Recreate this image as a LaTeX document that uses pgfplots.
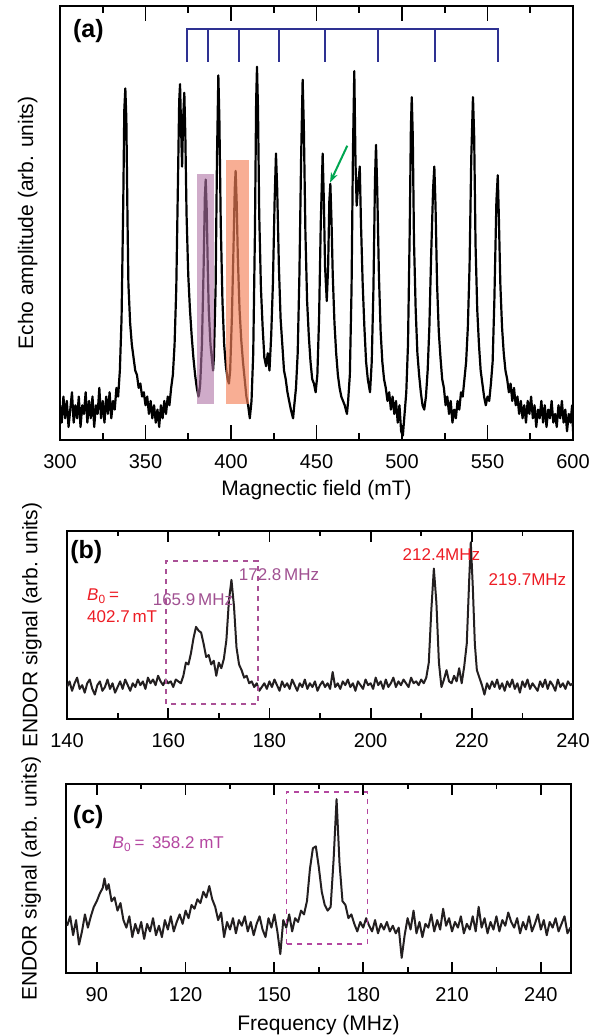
\documentclass[border=0pt]{standalone}
\usepackage{fontspec}
\setmainfont{Liberation Sans}
\usepackage{pgfplots}
\pgfplotsset{compat=1.18}
\usetikzlibrary{arrows.meta}
\definecolor{combblue}{RGB}{46,49,146}
\definecolor{rectpurple}{RGB}{175,115,165}
\definecolor{rectorange}{RGB}{245,130,90}
\definecolor{arrowgreen}{RGB}{0,166,81}
\definecolor{annred}{RGB}{237,28,36}
\definecolor{annpurple}{RGB}{160,80,145}
\definecolor{boxpurple}{RGB}{170,80,150}
\definecolor{cmag}{RGB}{180,70,160}
\definecolor{curve}{RGB}{35,31,32}
\pgfplotsset{
  myaxis/.style={
    scale only axis,
    anchor=south west,
    axis line style={line width=1pt},
    tick style={black, line width=0.9pt},
    tick align=inside,
    xtick pos=both,
    ytick=\empty,
    ymin=0, ymax=1,
    minor x tick num=1,
    /pgf/number format/assume math mode=true,
    xticklabel style={font=\fontsize{10}{12}\selectfont, yshift=-3.5pt},
    every axis x label/.style={at={(axis description cs:0.5,0)}, anchor=north, inner sep=0pt, yshift=-20pt, font=\fontsize{10.5}{12}\selectfont},
    every axis y label/.style={at={(axis description cs:-0.049,0.5)}, rotate=90, anchor=south, inner sep=0pt, font=\fontsize{10.5}{12}\selectfont},
  }
}
\begin{document}
\begin{tikzpicture}
\useasboundingbox (0,0) rectangle (302.5pt,518pt);
% ---------------- (a) ----------------
\begin{axis}[myaxis, at={(30pt,298pt)}, width=256.5pt, height=217pt,
  xmin=300, xmax=600, xtick={300,350,...,600},
  major tick length=7.5pt, minor tick length=3.5pt,
  xlabel={Magnectic field (mT)}, ylabel={Echo amplitude (arb. units)},
  every axis y label/.append style={at={(axis description cs:-0.043,0.5)}},
  unbounded coords=jump]
\addplot[black, line width=1.1pt, line join=round] coordinates {
(300,0.08)(301,0.04)(302,0.10)(303,0.05)(304,0.09)(305,0.03)(306,0.07)(307,0.11)(308,0.04)(309,0.08)
(310,0.05)(311,0.10)(312,0.03)(313,0.08)(314,0.06)(315,0.11)(316,0.04)(317,0.09)(318,0.05)(319,0.10)
(320,0.03)(321,0.08)(322,0.06)(323,0.12)(324,0.05)(325,0.09)(326,0.04)(327,0.10)(328,0.06)(329,0.11)
(330,0.05)(331,0.09)(332,0.07)(333,0.12)(334,0.10)(335,0.16)(336,0.28)(337,0.55)(337.6,0.76)(338.2,0.81)
(338.8,0.74)(339.5,0.50)(340,0.36)(341,0.27)(342,0.22)(343,0.19)(344,0.16)(345,0.15)(346,0.12)(347,0.13)
(348,0.10)(349,0.11)(350,0.08)(351,0.10)(352,0.06)(353,0.09)(354,0.05)(355,0.08)(356,0.04)(357,0.07)
(358,0.03)(359,0.08)(360,0.05)(361,0.09)(362,0.06)(363,0.10)(364,0.08)(365,0.12)(366,0.15)(367,0.22)
(368,0.35)(369,0.60)(369.7,0.78)(370.2,0.82)(370.8,0.72)(371.4,0.63)(372,0.74)(372.7,0.80)(373.3,0.70)(374,0.52)
(375,0.38)(376,0.30)(377,0.24)(378,0.19)(379,0.15)(380,0.12)(381,0.10)(381.5,0.11)(382,0.13)(383,0.22)
(384,0.40)(384.7,0.56)(385.2,0.60)(385.8,0.53)(386.5,0.38)(387,0.30)(388,0.22)(389,0.18)(389.5,0.16)(390,0.19)
(391,0.35)(391.8,0.65)(392.6,0.84)(393.2,0.74)(394,0.50)(395,0.32)(396,0.22)(397,0.17)(398,0.14)(398.8,0.13)
(399.5,0.16)(400.5,0.28)(401.5,0.45)(402.2,0.58)(402.7,0.62)(403.3,0.55)(404,0.42)(405,0.30)(406,0.23)(407,0.18)
(408,0.14)(409,0.10)(410,0.08)(411,0.05)(412,0.09)(413,0.20)(414,0.48)(414.7,0.78)(415.2,0.86)(415.8,0.76)
(416.5,0.52)(417.5,0.35)(418.5,0.26)(419.5,0.19)(420.5,0.17)(421.5,0.20)(422.5,0.16)(423.5,0.24)(424.5,0.36)(425.5,0.55)
(426.3,0.66)(427,0.58)(428,0.40)(429,0.28)(430,0.22)(431,0.16)(432,0.14)(433,0.11)(434,0.09)(435,0.07)
(436.3,0.05)(437,0.08)(438,0.12)(439,0.20)(440,0.38)(441,0.65)(441.9,0.83)(442.6,0.72)(443.5,0.48)(444.5,0.32)
(445.5,0.24)(446.5,0.18)(447.5,0.14)(448.5,0.13)(449.5,0.11)(450.5,0.15)(451.5,0.28)(452.5,0.50)(453.6,0.66)(454.3,0.55)
(455,0.40)(456,0.32)(456.8,0.40)(457.5,0.55)(458.1,0.59)(458.8,0.50)(459.5,0.38)(460.5,0.27)(461.5,0.20)(462.5,0.15)
(463.5,0.12)(464.5,0.10)(465.5,0.09)(466.5,0.08)(467.8,0.06)(468.5,0.09)(469.5,0.15)(470.5,0.35)(471.3,0.66)(472.1,0.85)
(472.8,0.64)(473.5,0.54)(474.2,0.58)(475.3,0.63)(476,0.50)(477,0.36)(478,0.26)(479,0.18)(480,0.14)(481.3,0.11)
(482.3,0.18)(483.3,0.35)(484.2,0.60)(484.8,0.68)(485.5,0.58)(486.5,0.38)(487.5,0.25)(488.5,0.18)(489.5,0.14)(490.5,0.12)
(491.5,0.09)(492.5,0.11)(493.5,0.07)(494.5,0.10)(495.5,0.06)(496.5,0.09)(497.5,0.04)(498.5,0.08)(499.5,0.02)(500.5,0.01)
(501.5,0.06)(502.5,0.11)(503.5,0.22)(504.5,0.48)(505.2,0.72)(505.7,0.79)(506.3,0.70)(507,0.46)(508,0.30)(509,0.20)
(510,0.15)(511,0.11)(512,0.08)(513,0.07)(514,0.10)(515,0.16)(516,0.26)(517,0.42)(518.2,0.58)(518.9,0.63)
(519.6,0.54)(520.5,0.36)(521.5,0.25)(522.5,0.19)(523.5,0.14)(524.5,0.12)(525.5,0.08)(526.5,0.10)(527.5,0.06)(528.5,0.09)
(529.5,0.04)(530.5,0.07)(531.5,0.05)(532.5,0.09)(533.5,0.07)(534.5,0.11)(535.5,0.10)(536.5,0.14)(537.5,0.18)(538.5,0.26)
(539.5,0.40)(540.5,0.65)(541.5,0.79)(542.2,0.70)(543,0.45)(544,0.30)(545,0.22)(546,0.16)(547,0.13)(548,0.10)
(549,0.08)(550,0.10)(551,0.09)(552,0.13)(553,0.18)(554,0.32)(555.2,0.55)(556,0.61)(556.6,0.52)(557.5,0.36)
(558.5,0.26)(559.5,0.20)(560.5,0.16)(561.5,0.14)(562.5,0.11)(563.5,0.13)(564.5,0.09)(565.5,0.12)(566.5,0.08)(567.5,0.10)
(568.5,0.06)(569.5,0.09)(570.5,0.05)(571.5,0.08)(572.5,0.04)(573.5,0.09)(574.5,0.06)(575.5,0.10)(576.5,0.05)(577.5,0.08)
(578.5,0.03)(579.5,0.07)(580.5,0.05)(581.5,0.09)(582.5,0.04)(583.5,0.08)(584.5,0.03)(585.5,0.07)(586.5,0.05)(587.5,0.09)
(588.5,0.04)(589.5,0.06)(590.5,0.03)(591.5,0.08)(592.5,0.05)(593.5,0.09)(594.5,0.04)(595.5,0.07)(596.5,0.02)(597.5,0.06)
(598.5,0.04)(599.5,0.08)(600,0.02)
};
\addplot[combblue, line width=1pt] coordinates {
(374.1,0.871)(374.1,0.947)(556.1,0.947)(556.1,0.871)(556.1,nan)
(386.7,0.947)(386.7,0.871)(386.7,nan)
(404.5,0.947)(404.5,0.871)(404.5,nan)
(427.9,0.947)(427.9,0.871)(427.9,nan)
(455.0,0.947)(455.0,0.871)(455.0,nan)
(485.8,0.947)(485.8,0.871)(485.8,nan)
(519.5,0.947)(519.5,0.871)
};
\fill[rectpurple, fill opacity=0.6] (axis cs:380.1,0.083) rectangle (axis cs:390.0,0.613);
\fill[rectorange, fill opacity=0.65] (axis cs:397.1,0.083) rectangle (axis cs:410.5,0.645);
\draw[arrowgreen, line width=1pt, -{Stealth[length=5pt,width=3.5pt]}] (axis cs:468,0.678) -- (axis cs:457.9,0.593);
\node[font=\fontsize{12.5}{14}\selectfont\bfseries] at (axis cs:316.6,0.943) {(a)};
\end{axis}
% ---------------- (b) ----------------
\begin{axis}[myaxis, at={(33.5pt,158.5pt)}, width=253pt, height=94pt,
  xmin=140, xmax=240, xtick={140,160,...,240},
  major tick length=5.5pt, minor tick length=2.75pt,
  ylabel={ENDOR signal (arb. units)}]
\addplot[curve, line width=1pt, line join=round] coordinates {
(140,0.17)(140.5,0.20)(141,0.15)(141.5,0.19)(142,0.22)(142.5,0.16)(143,0.18)(143.5,0.14)(144,0.19)(144.5,0.21)
(145,0.16)(145.5,0.13)(146,0.18)(146.5,0.20)(147,0.15)(147.5,0.17)(148,0.21)(148.5,0.16)(149,0.19)(149.5,0.14)
(150,0.17)(150.5,0.20)(151,0.16)(151.5,0.21)(152,0.18)(152.5,0.15)(153,0.19)(153.5,0.17)(154,0.21)(154.5,0.18)
(155,0.20)(155.5,0.16)(156,0.22)(156.5,0.19)(157,0.21)(157.5,0.18)(158,0.23)(158.5,0.20)(159,0.18)(159.5,0.21)
(160,0.19)(160.5,0.20)(161,0.17)(161.5,0.21)(162,0.20)(162.5,0.19)(163,0.23)(163.5,0.30)(164,0.29)(164.5,0.35)
(165,0.43)(165.5,0.49)(166,0.47)(166.5,0.46)(167,0.40)(167.5,0.33)(168,0.34)(168.5,0.29)(169,0.31)(169.5,0.23)
(170,0.30)(170.5,0.27)(171,0.32)(171.5,0.42)(172,0.63)(172.5,0.74)(173,0.60)(173.5,0.38)(174,0.29)(174.5,0.26)
(175,0.22)(175.5,0.23)(176,0.19)(176.5,0.20)(177,0.17)(177.5,0.19)(178,0.15)(178.5,0.17)(179,0.19)(179.5,0.16)
(180,0.20)(180.5,0.17)(181,0.21)(181.5,0.18)(182,0.15)(182.5,0.20)(183,0.17)(183.5,0.19)(184,0.16)(184.5,0.21)
(185,0.18)(185.5,0.15)(186,0.19)(186.5,0.17)(187,0.21)(187.5,0.16)(188,0.19)(188.5,0.17)(189,0.20)(189.5,0.15)
(190,0.18)(190.5,0.20)(191,0.17)(191.5,0.19)(192,0.16)(192.5,0.25)(193,0.17)(193.5,0.19)(194,0.16)(194.5,0.20)
(195,0.18)(195.5,0.21)(196,0.17)(196.5,0.19)(197,0.15)(197.5,0.20)(198,0.18)(198.5,0.16)(199,0.21)(199.5,0.18)
(200,0.19)(200.5,0.16)(201,0.22)(201.5,0.18)(202,0.20)(202.5,0.16)(203,0.21)(203.5,0.17)(204,0.19)(204.5,0.22)
(205,0.17)(205.5,0.20)(206,0.18)(206.5,0.21)(207,0.19)(207.5,0.17)(208,0.22)(208.5,0.19)(209,0.20)(209.5,0.18)
(210,0.21)(210.5,0.19)(211,0.22)(211.5,0.30)(212,0.58)(212.5,0.80)(213,0.62)(213.5,0.30)(214,0.17)(214.5,0.21)
(215,0.26)(215.5,0.20)(216,0.19)(216.5,0.23)(217,0.20)(217.5,0.27)(218,0.19)(218.5,0.28)(219,0.40)(219.5,0.75)
(219.8,0.94)(220.2,0.70)(220.6,0.40)(221,0.26)(221.5,0.22)(222,0.18)(222.5,0.13)(223,0.19)(223.5,0.16)(224,0.20)
(224.5,0.17)(225,0.21)(225.5,0.16)(226,0.19)(226.5,0.15)(227,0.20)(227.5,0.17)(228,0.21)(228.5,0.16)(229,0.19)
(229.5,0.14)(230,0.20)(230.5,0.17)(231,0.21)(231.5,0.16)(232,0.19)(232.5,0.17)(233,0.15)(233.5,0.20)(234,0.17)
(234.5,0.21)(235,0.16)(235.5,0.20)(236,0.18)(236.5,0.15)(237,0.21)(237.5,0.17)(238,0.19)(238.5,0.16)(239,0.20)
(239.5,0.18)(240,0.19)
};
\draw[boxpurple, line width=0.8pt, dash pattern=on 2.5pt off 2.5pt] (axis cs:159.6,0.08) rectangle (axis cs:177.8,0.84);
\node[font=\fontsize{12.5}{14}\selectfont\bfseries] at (axis cs:143.8,0.89) {(b)};
\node[annred, font=\fontsize{8.5}{10.5}\selectfont, anchor=west] at (axis cs:142.6,0.654) {\textit{B}\textsubscript{0}\,=};
\node[annred, font=\fontsize{8.5}{10.5}\selectfont, anchor=west] at (axis cs:142.6,0.543) {402.7\,mT};
\node[annpurple, font=\fontsize{8.5}{10.5}\selectfont] at (axis cs:181.9,0.766) {172.8\,MHz};
\node[annpurple, font=\fontsize{8.5}{10.5}\selectfont] at (axis cs:164.9,0.633) {165.9\,MHz};
\node[annred, font=\fontsize{8.5}{10.5}\selectfont] at (axis cs:214.0,0.872) {212.4MHz};
\node[annred, font=\fontsize{8.5}{10.5}\selectfont] at (axis cs:231.0,0.743) {219.7MHz};
\end{axis}
% ---------------- (c) ----------------
\begin{axis}[myaxis, at={(33pt,31.5pt)}, width=252.5pt, height=94.5pt,
  xmin=79.6, xmax=250.2, xtick={90,120,...,240},
  major tick length=5.5pt, minor tick length=2.75pt,
  xlabel={Frequency (MHz)}, ylabel={ENDOR signal (arb. units)},
  every axis x label/.append style={yshift=-1pt}]
\addplot[curve, line width=1pt, line join=round] coordinates {
(80,0.25)(81,0.30)(82,0.20)(83,0.28)(84,0.15)(85,0.22)(86,0.31)(87,0.24)(88,0.30)(89,0.35)
(90,0.38)(91,0.42)(92,0.45)(92.6,0.50)(93.3,0.44)(94,0.47)(95,0.38)(96,0.40)(97,0.33)(98,0.37)
(99,0.28)(100,0.24)(101,0.30)(102,0.19)(103,0.26)(104,0.21)(105,0.27)(106,0.18)(107,0.26)(108,0.22)
(109,0.29)(110,0.20)(111,0.25)(112,0.19)(113,0.28)(114,0.23)(115,0.30)(116,0.22)(117,0.27)(118,0.31)
(119,0.26)(120,0.33)(121,0.29)(122,0.36)(123,0.34)(124,0.39)(125,0.37)(126,0.43)(127,0.40)(128,0.46)
(129,0.39)(130,0.35)(131,0.28)(132,0.32)(133,0.19)(134,0.27)(135,0.23)(136,0.29)(137,0.21)(138,0.28)
(139,0.25)(140,0.30)(141,0.22)(142,0.27)(143,0.20)(144,0.26)(145,0.30)(146,0.23)(147,0.19)(148,0.29)
(149,0.24)(150,0.31)(151,0.22)(152,0.10)(153,0.28)(154,0.24)(155,0.31)(156,0.22)(157,0.29)(158,0.27)
(159,0.33)(160,0.31)(161,0.38)(162,0.55)(163,0.66)(164,0.67)(165,0.56)(166,0.43)(167,0.36)(168,0.33)
(169,0.35)(170,0.60)(171,0.92)(172,0.58)(173,0.38)(174,0.36)(175,0.29)(176,0.31)(177,0.26)(178,0.22)
(179,0.27)(180,0.24)(181,0.29)(182,0.25)(183,0.22)(184,0.28)(185,0.21)(186,0.26)(187,0.23)(188,0.27)
(189,0.22)(190,0.25)(191,0.21)(192,0.24)(193,0.08)(194,0.20)(195,0.29)(196,0.23)(197,0.33)(198,0.21)
(199,0.27)(200,0.19)(201,0.26)(202,0.24)(203,0.31)(204,0.22)(205,0.28)(206,0.23)(207,0.34)(208,0.25)
(209,0.29)(210,0.22)(211,0.27)(212,0.24)(213,0.30)(214,0.21)(215,0.26)(216,0.23)(217,0.30)(218,0.22)
(219,0.35)(220,0.24)(221,0.29)(222,0.21)(223,0.27)(224,0.23)(225,0.30)(226,0.22)(227,0.28)(228,0.25)
(229,0.32)(230,0.27)(231,0.24)(232,0.29)(233,0.21)(234,0.27)(235,0.23)(236,0.30)(237,0.22)(238,0.26)
(239,0.31)(240,0.23)(241,0.28)(242,0.20)(243,0.27)(244,0.24)(245,0.29)(246,0.22)(247,0.26)(248,0.30)
(249,0.21)(250,0.24)
};
\draw[cmag, line width=0.8pt, dash pattern=on 2.5pt off 2.5pt] (axis cs:154.1,0.153) rectangle (axis cs:181.4,0.958);
\node[font=\fontsize{12.5}{14}\selectfont\bfseries] at (axis cs:87.1,0.825) {(c)};
\node[cmag, font=\fontsize{8.5}{10.5}\selectfont, anchor=west] at (axis cs:93.0,0.683) {\textit{B}\textsubscript{0}\,=\, 358.2 mT};
\end{axis}
\end{tikzpicture}
\end{document}
